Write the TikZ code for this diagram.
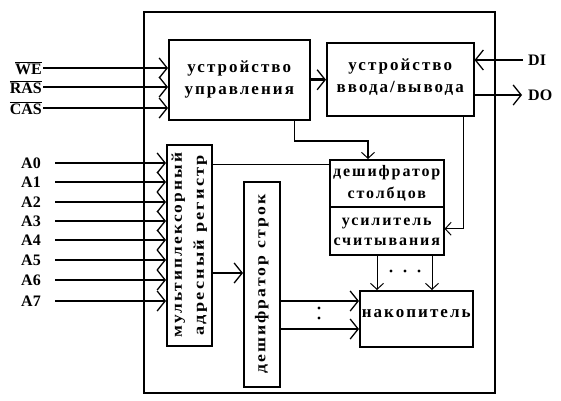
\documentclass[tikz,border=0pt]{standalone}
\usepackage{fontspec}
\setmainfont{Liberation Serif}
\newfontfamily\blockfont[LetterSpace=12, UprightFont={* Bold}]{Liberation Serif}
\usetikzlibrary{arrows.meta}
\tikzset{
    blok/.style={draw, line width=1.5pt, rectangle, anchor=north west, inner sep=0pt},
    btext/.style={font=\blockfont\fontsize{17}{22}\selectfont, align=center},
    vtext/.style={font=\blockfont\fontsize{15}{18}\selectfont, rotate=90, inner sep=0pt},
    sig/.style={font=\bfseries\fontsize{16}{18}\selectfont, inner sep=1pt},
    bus/.style={line width=2.6pt, -{Straight Barb[length=8pt,width=20pt,line width=1.3pt]}},
    wire/.style={line width=1.8pt},
    thinwire/.style={line width=1pt},
    tip/.style={-{Straight Barb[length=6pt,width=13pt,line width=1pt]}},
}
\begin{document}
\begin{tikzpicture}[x=1pt, y=-1pt]
    \useasboundingbox (0,0) rectangle (561,400);
    % корпус
    \draw[line width=1.6pt] (144,12) rectangle (495,393);
    % блоки
    \node[blok, minimum width=141pt, minimum height=80pt] (ctrl) at (168,39) {};
    \node[btext] at (ctrl.center) {устройство\\управления};
    \node[blok, minimum width=147pt, minimum height=73pt] (io) at (326,42) {};
    \node[btext] at ([yshift=2pt]io.center) {устройство\\ввода/вывода};
    \node[blok, minimum width=114pt, minimum height=47pt] (coldec) at (329,159) {};
    \node[btext, font=\blockfont\fontsize{16}{22}\selectfont] at (coldec.center) {дешифратор\\столбцов};
    \node[blok, minimum width=114pt, minimum height=48pt] (amp) at (329,206) {};
    \node[btext, font=\blockfont\fontsize{16}{20}\selectfont] at ([yshift=-1pt]amp.center) {усилитель\\считывания};
    \node[blok, minimum width=113pt, minimum height=56pt] (store) at (359,290) {};
    \node[btext] at ([yshift=5pt]store.center) {накопитель};
    \node[blok, minimum width=45pt, minimum height=201pt] (mux) at (166,144) {};
    \node[vtext] at ([xshift=-11pt]mux.center) {\scalebox{1.16}[1]{мультиплексорный}};
    \node[vtext] at ([xshift=11pt]mux.center) {\scalebox{1.22}[1]{адресный регистр}};
    \node[blok, minimum width=36pt, minimum height=205pt] (rowdec) at (243,181) {};
    \node[vtext] at (rowdec.center) {\scalebox{1.18}[1]{дешифратор строк}};
    % управляющие сигналы
    \foreach \name/\y/\txt in {we/68/WE, ras/87/RAS, cas/108/CAS}{
        \coordinate (\name) at (43,\y);
        \node[sig, anchor=east] (l\name) at (\name) {$\overline{\mbox{\txt}}$};
        \draw[bus] (\name) -- (\name -| ctrl.west);
    }
    % адресные входы
    \foreach \i/\y in {0/163, 1/182, 2/202, 3/221, 4/240, 5/260, 6/280, 7/301}{
        \coordinate (a\i) at (55,\y);
        \node[sig, anchor=east] (la\i) at ([xshift=-13pt]a\i) {A\i};
        \draw[bus] (a\i) -- (a\i -| mux.west);
    }
    % данные
    \coordinate (di) at (523,60);
    \coordinate (do) at (522,95);
    \node[sig, anchor=west] (ldi) at ([xshift=4pt]di) {DI};
    \node[sig, anchor=west] (ldo) at ([xshift=5pt]do) {DO};
    \draw[bus] (di) -- (di -| io.east);
    \draw[bus] (do -| io.east) -- (do);
    % связи внутри
    \draw[bus] (ctrl.east) -- (ctrl.east -| io.west);
    \draw[wire, tip] ([xshift=-16pt]ctrl.south east) |- ([xshift=39pt,yshift=18pt]coldec.north west) -- ([xshift=39pt]coldec.north west);
    \draw[thinwire, tip] ([xshift=-11pt]io.south east) |- ([yshift=2pt]amp.east);
    \draw[thinwire] ([yshift=-20pt]mux.north east) -- ([yshift=-5pt]coldec.north west);
    \draw[bus] ([yshift=-129pt]mux.north east) -- ([yshift=-129pt]mux.north east -| rowdec.west);
    \draw[bus] ([yshift=-120pt]rowdec.north east) -- ([yshift=-120pt]rowdec.north east -| store.west);
    \draw[bus] ([yshift=-148pt]rowdec.north east) -- ([yshift=-148pt]rowdec.north east -| store.west);
    \draw[thinwire, tip] ([xshift=48pt]amp.south west) -- ([xshift=48pt]amp.south west |- store.north);
    \draw[thinwire, tip] ([xshift=103pt]amp.south west) -- ([xshift=103pt]amp.south west |- store.north);
    % точки
    \foreach \x in {391,405,419}
        \fill (\x,271) circle (1.6pt);
    \foreach \y in {308,318}
        \fill (319,\y) circle (1.6pt);
\end{tikzpicture}
\end{document}
